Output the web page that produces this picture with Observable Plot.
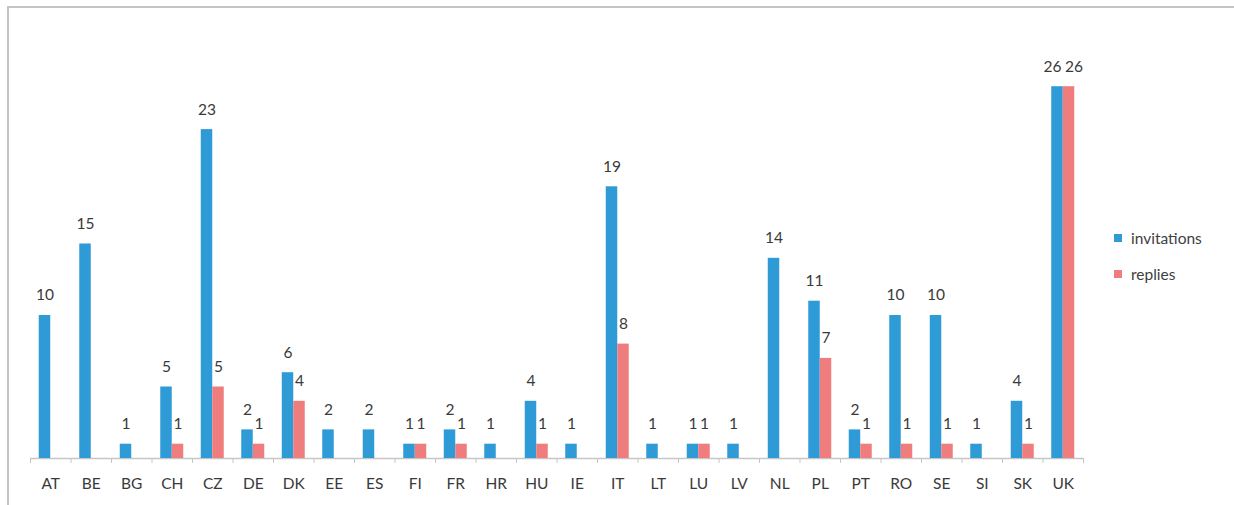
<!DOCTYPE html>
<html><head><meta charset="utf-8">
<script src="https://cdn.jsdelivr.net/npm/d3@7"></script>
<script src="https://cdn.jsdelivr.net/npm/@observablehq/plot@0.6"></script>
<style>
body{margin:0;background:#fff;overflow:hidden;font-family:Lato,"Open Sans",sans-serif;}
#frame{position:absolute;left:7px;top:6px;width:1400px;height:700px;border-left:2px solid #c4c4c4;border-top:2px solid #c4c4c4;}
#chart{position:absolute;left:0;top:0;}
#legend{position:absolute;left:1114px;top:228px;font-size:15.5px;color:#404040;font-family:Lato,"Open Sans",sans-serif;}
#legend .item{display:flex;align-items:center;height:20px;margin-bottom:16px;}
#legend .sw{width:8px;height:8px;margin-right:9px;}
</style>
</head><body>
<div id="frame"></div>
<div id="chart"></div>
<div id="legend"></div>
<script>
const countries = ["AT","BE","BG","CH","CZ","DE","DK","EE","ES","FI","FR","HR","HU","IE","IT","LT","LU","LV","NL","PL","PT","RO","SE","SI","SK","UK"];
const invitations = [10,15,1,5,23,2,6,2,2,1,2,1,4,1,19,1,1,1,14,11,2,10,10,1,4,26];
const replies = [null,null,null,1,5,1,4,null,null,1,1,null,1,null,8,null,1,null,null,7,1,1,1,null,1,26];
const seriesNames = ["invitations","replies"];
const seriesColors = ["#2E9BD7","#EF7D7D"];

const W = 1234, H = 505, mL = 30, mR = 151, mT = 29, mB = 47;
const step = (W - mL - mR) / countries.length;
const barW = 11.5;
const data = countries.map((c, i) => ({country: c, invitations: invitations[i], replies: replies[i]}));
const rep = data.filter(d => d.replies != null);
const axisColor = "#c6c6c6";
// spread the two labels apart only when both are two-digit numbers (they would collide)
const spread = d => (d.replies != null && d.invitations >= 10 && d.replies >= 10) ? 5 : 0;

const plot = Plot.plot({
  width: W, height: H,
  marginLeft: mL, marginRight: mR, marginTop: mT, marginBottom: mB,
  x: {domain: countries, padding: 0, round: false, tickSize: 0, tickPadding: 19, label: null},
  y: {domain: [0, 30], axis: null},
  style: {fontFamily: "Lato, 'Open Sans', sans-serif", fontSize: "15.5px", color: "#3a3a3a", background: "transparent", overflow: "visible"},
  marks: [
    Plot.ruleY([0], {stroke: axisColor, strokeWidth: 1.5}),
    Plot.ruleX(countries, {x: d => d, y1: 0, y2: -0.35, dx: -step / 2, stroke: axisColor}),
    Plot.ruleX(countries.slice(-1), {x: d => d, y1: 0, y2: -0.35, dx: step / 2, stroke: axisColor}),
    Plot.barY(data, {x: "country", y: "invitations", fill: seriesColors[0], insetLeft: step / 2 - barW, insetRight: step / 2}),
    Plot.barY(rep, {x: "country", y: "replies", fill: seriesColors[1], insetLeft: step / 2, insetRight: step / 2 - barW}),
    ...data.map(d => Plot.text([d], {x: "country", y: "invitations", text: d => String(d.invitations), dx: -barW / 2 - spread(d), dy: -20, fill: "#3a3a3a", fontSize: 15.5})),
    ...rep.map(d => Plot.text([d], {x: "country", y: "replies", text: d => String(d.replies), dx: barW / 2 + spread(d), dy: -20, fill: "#3a3a3a", fontSize: 15.5}))
  ]
});
document.getElementById("chart").appendChild(plot);

const legend = document.getElementById("legend");
seriesNames.forEach((n, i) => {
  const it = document.createElement("div");
  it.className = "item";
  const sw = document.createElement("span");
  sw.className = "sw";
  sw.style.background = seriesColors[i];
  const t = document.createElement("span");
  t.textContent = n;
  it.appendChild(sw); it.appendChild(t);
  legend.appendChild(it);
});
</script>
</body></html>
